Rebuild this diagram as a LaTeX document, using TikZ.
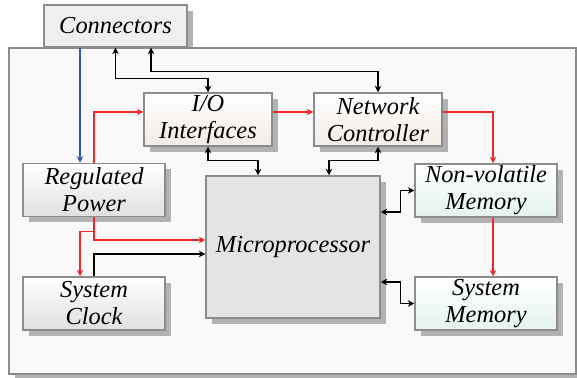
\documentclass[tikz,border=0pt]{standalone}
\usepackage{fontspec}
\setmainfont{LiberationSerif}[Extension=.ttf, UprightFont=*-Regular, ItalicFont=*-Italic, BoldFont=*-Bold]
\usetikzlibrary{arrows.meta, positioning, shadows}
\definecolor{cred}{HTML}{F02828}
\definecolor{cblue}{HTML}{3355AA}
\definecolor{cedge}{HTML}{8C8C8C}
\definecolor{cshade}{HTML}{B2B2B2}
\definecolor{cwarm}{HTML}{F2EBE6}
\definecolor{cmint}{HTML}{E4F3EE}
\definecolor{cgrey}{HTML}{E0E0E0}
\definecolor{cchip}{HTML}{E4E4E4}
\definecolor{cboard}{HTML}{F9F9F9}
\tikzset{
  every picture/.style={font=\fontsize{12.2}{13.5}\selectfont\itshape},
  blk/.style={draw=cedge, line width=0.75pt, top color=white, bottom color=#1, align=center, inner sep=0pt,
    minimum width=71pt, minimum height=26.5pt,
    drop shadow={shadow xshift=3pt, shadow yshift=-3pt, fill=cshade, opacity=1}},
  blk/.default=cgrey,
  board/.style={draw=cedge, fill=cboard, line width=1pt,
    drop shadow={shadow xshift=3pt, shadow yshift=-3pt, fill=cshade, opacity=1}},
  link/.style={-{Stealth[length=3.2pt, width=3.2pt, inset=1pt]}, line width=0.6pt},
  dlink/.style={{Stealth[length=3.2pt, width=3.2pt, inset=1pt]}-{Stealth[length=3.2pt, width=3.2pt, inset=1pt]}, line width=0.6pt},
}
\begin{document}
\begin{tikzpicture}[x=0.5pt, y=-0.5pt]
  \useasboundingbox (0,0) rectangle (577,378);
  \node[blk, fill=cchip!60, top color=cchip!60, bottom color=cchip!60, minimum width=71.5pt, minimum height=21pt] (conn) at (115.5,26) {Connectors};
  \node[board, minimum width=283.5pt, minimum height=163pt] (board) at (292.5,211) {};

  \node[blk=cwarm, minimum width=64pt] (io) at (208,119.5) {I/O\\Interfaces};
  \node[blk=cwarm, minimum width=64pt] (nc) at (378,119.5) {Network\\Controller};
  \node[blk=cmint] (nv) at (486,190.5) {Non-volatile\\Memory};
  \node[blk=cmint] (sm) at (486,303.5) {System\\Memory};
  \node[blk] (rp) at (94,190) {Regulated\\Power};
  \node[blk] (sc) at (94,303.5) {System\\Clock};
  \node[blk=cchip, top color=cchip, minimum width=87pt, minimum height=71pt] (mp) at (293,247) {Microprocessor};

  % power
  \draw[link, cblue] ([xshift=-7pt]rp.north |- conn.south) -- ([xshift=-7pt]rp.north);
  \draw[link, cred] (rp.north) |- ([yshift=3.75pt]io.west);
  \draw[link, cred] (rp.south) |- ([yshift=3.5pt]mp.west);
  \draw[link, cred] ([yshift=-7pt]rp.south) -| ([xshift=-7pt]sc.north);
  \draw[link, cred] ([yshift=3.75pt]io.east) -- ([yshift=3.75pt]nc.west);
  \draw[link, cred] ([yshift=3.75pt]nc.east) -| ([xshift=3.5pt]nv.north);
  \draw[link, cred] ([xshift=3.5pt]nv.south) -- ([xshift=3.5pt]sm.north);
  \draw[link] (sc.north) |- ([yshift=-3.5pt]mp.west);

  % data
  \draw[dlink] (conn.south) -- ++(0,-15.5pt) -| (io.north);
  \draw[dlink] ([xshift=17.75pt]conn.south) -- ++(0,-12pt) -| (nc.north);
  \draw[dlink] (io.south) -- ++(0,-7pt) -| ([xshift=-17.5pt]mp.north);
  \draw[dlink] (nc.south) -- ++(0,-7pt) -| ([xshift=18pt]mp.north);
  \draw[dlink] (nv.west) -- ++(-7pt,0) |- ([yshift=17.5pt]mp.east);
  \draw[dlink] (sm.west) -- ++(-7pt,0) |- ([yshift=-17.5pt]mp.east);
\end{tikzpicture}
\end{document}
